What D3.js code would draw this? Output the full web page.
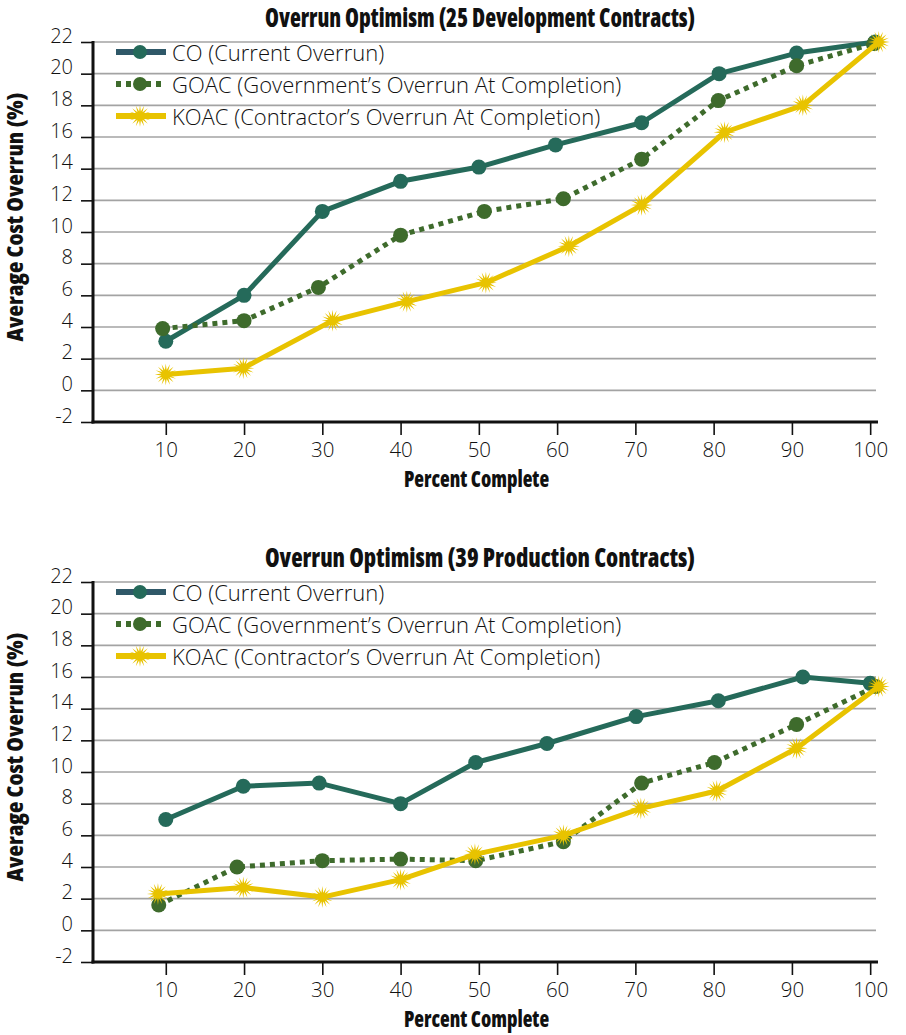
<!DOCTYPE html>
<html>
<head>
<meta charset="utf-8">
<script src="https://cdn.jsdelivr.net/npm/d3@7"></script>
<style>
  html, body { margin: 0; padding: 0; background: #ffffff; }
  svg { display: block; }
  .light { font-family: "Open Sans", "DejaVu Sans Condensed", sans-serif; font-weight: 350; font-stretch: 96%; fill: #111; }
  .bold { font-family: "Open Sans", "DejaVu Sans Condensed", sans-serif; font-weight: 800; font-stretch: 75%; fill: #111; }
</style>
</head>
<body>
<svg id="chart" width="906" height="1035"></svg>
<script>
// Percent-complete categories and axis ticks
const percentTicks = [10, 20, 30, 40, 50, 60, 70, 80, 90, 100];
const overrunTicks = [-2, 0, 2, 4, 6, 8, 10, 12, 14, 16, 18, 20, 22];

const seriesNames = [
  "CO (Current Overrun)",
  "GOAC (Government\u2019s Overrun At Completion)",
  "KOAC (Contractor\u2019s Overrun At Completion)"
];

// Development contracts (25): plotted percent-complete position and average overrun (%)
const devTitle = "Overrun Optimism (25 Development Contracts)";
const devCOx   = [10, 20, 30, 40, 50, 59.8, 70.8, 80.7, 90.6, 100.6];
const devCO    = [3.1, 6.0, 11.3, 13.2, 14.1, 15.5, 16.9, 20.0, 21.3, 22.0];
const devGOACx = [9.6, 20, 29.5, 40, 50.7, 60.8, 70.8, 80.6, 90.6, 100.5];
const devGOAC  = [3.9, 4.4, 6.5, 9.8, 11.3, 12.1, 14.6, 18.3, 20.5, 21.9];
const devKOACx = [10, 19.9, 31.3, 40.8, 50.9, 61.5, 70.8, 81.4, 91.4, 101.1];
const devKOAC  = [1.0, 1.4, 4.4, 5.6, 6.8, 9.1, 11.7, 16.3, 18.0, 22.0];

// Production contracts (39)
const prodTitle = "Overrun Optimism (39 Production Contracts)";
const prodCOx   = [10, 19.9, 29.6, 40, 49.6, 58.7, 70.1, 80.6, 91.4, 100];
const prodCO    = [7.0, 9.1, 9.3, 8.0, 10.6, 11.8, 13.5, 14.5, 16.0, 15.6];
const prodGOACx = [9.1, 19.1, 30, 40, 49.6, 60.8, 70.8, 80.1, 90.6, 100.7];
const prodGOAC  = [1.6, 4.0, 4.4, 4.5, 4.4, 5.6, 9.3, 10.6, 13.0, 15.4];
const prodKOACx = [9.0, 19.9, 30, 40, 49.5, 60.8, 70.7, 80.4, 90.6, 101.1];
const prodKOAC  = [2.3, 2.7, 2.1, 3.2, 4.8, 6.0, 7.7, 8.8, 11.5, 15.4];

const colors = { co: "#256a5a", coKey: "#2f5868", goac: "#3e6b2c", koac: "#e8c300" };

const svg = d3.select("#chart");

// Star-burst marker path for the KOAC series
function burstPath(rOuter, rInner, spikes) {
  const pts = [];
  for (let i = 0; i < spikes * 2; i++) {
    const r = i % 2 === 0 ? rOuter : rInner;
    const a = (Math.PI * i) / spikes;
    pts.push([r * Math.sin(a), -r * Math.cos(a)]);
  }
  return "M" + pts.map(p => p[0].toFixed(2) + "," + p[1].toFixed(2)).join("L") + "Z";
}
const burst = burstPath(11, 4.5, 16);

function drawPanel(offsetY, title, series) {
  const g = svg.append("g").attr("transform", `translate(0,${offsetY})`);

  const x = d3.scaleLinear().domain([0.7, 101]).range([93, 878]);
  const y = d3.scaleLinear().domain([-2, 22]).range([422, 42]);

  // Horizontal gridlines
  g.append("g").selectAll("line").data(overrunTicks.filter(t => t !== -2)).join("line")
    .attr("x1", x.range()[0]).attr("x2", 876)
    .attr("y1", d => y(d)).attr("y2", d => y(d))
    .attr("stroke", "#a3a3a3").attr("stroke-width", 1.6);

  // Y axis
  const yAxis = g.append("g").attr("transform", `translate(${x.range()[0]},0)`)
    .call(d3.axisLeft(y).tickValues(overrunTicks).tickFormat(d => String(d))
      .tickSize(12).tickPadding(8));
  yAxis.select(".domain").remove();
  yAxis.selectAll(".tick line").attr("stroke", "#111").attr("stroke-width", 1.6);
  yAxis.selectAll(".tick text").attr("class", "light").attr("dy", "0")
    .style("font-size", "20px");
  g.append("line").attr("x1", x.range()[0]).attr("x2", x.range()[0])
    .attr("y1", y(22) - 1).attr("y2", y(-2) + 1.5)
    .attr("stroke", "#111").attr("stroke-width", 3);

  // X axis
  const xAxis = g.append("g").attr("transform", `translate(0,${y(-2)})`)
    .call(d3.axisBottom(x).tickValues(percentTicks).tickSize(13).tickPadding(7));
  xAxis.select(".domain").remove();
  xAxis.selectAll(".tick line").attr("stroke", "#111").attr("stroke-width", 1.6);
  xAxis.selectAll(".tick text").attr("class", "light").style("font-size", "20.5px");
  g.append("line").attr("x1", x.range()[0] - 1.5).attr("x2", x.range()[1])
    .attr("y1", y(-2)).attr("y2", y(-2))
    .attr("stroke", "#111").attr("stroke-width", 3.2);

  // Titles
  g.append("text").attr("class", "bold")
    .attr("x", 480).attr("y", 27).attr("text-anchor", "middle")
    .attr("textLength", 430).attr("lengthAdjust", "spacingAndGlyphs")
    .style("font-size", "26px").text(title);
  g.append("text").attr("class", "bold")
    .attr("x", 476.5).attr("y", 487).attr("text-anchor", "middle")
    .attr("textLength", 145).attr("lengthAdjust", "spacingAndGlyphs")
    .style("font-size", "22px").text("Percent Complete");
  g.append("text").attr("class", "bold")
    .attr("transform", "translate(23,217) rotate(-90)").attr("text-anchor", "middle")
    .attr("textLength", 249).attr("lengthAdjust", "spacingAndGlyphs")
    .style("font-size", "22px").text("Average Cost Overrun (%)");

  const line = d3.line().x(d => x(d[0])).y(d => y(d[1]));

  series.forEach(s => {
    const pts = s.xs.map((v, i) => [v, s.ys[i]]);
    g.append("path").datum(pts)
      .attr("d", line).attr("fill", "none")
      .attr("stroke", s.color).attr("stroke-width", s.width)
      .attr("stroke-dasharray", s.dash || null)
      .attr("stroke-linejoin", "round");
    if (s.marker === "circle") {
      g.append("g").selectAll("circle").data(pts).join("circle")
        .attr("cx", d => x(d[0])).attr("cy", d => y(d[1]))
        .attr("r", 7.5).attr("fill", s.color);
    } else {
      g.append("g").selectAll("path").data(pts).join("path")
        .attr("transform", d => `translate(${x(d[0])},${y(d[1])})`)
        .attr("d", burst).attr("fill", s.color);
    }
  });

  // Legend
  const keyY = [52, 84, 116];
  series.forEach((s, i) => {
    const k = g.append("g").attr("transform", `translate(0,${keyY[i]})`);
    k.append("line").attr("x1", 116).attr("x2", 166).attr("y1", 0).attr("y2", 0)
      .attr("stroke", s.keyColor || s.color).attr("stroke-width", 6)
      .attr("stroke-dasharray", s.dash || null);
    if (s.marker === "circle") {
      k.append("circle").attr("cx", 140).attr("cy", 0).attr("r", 7).attr("fill", s.color);
    } else {
      k.append("path").attr("transform", "translate(140,0)").attr("d", burst).attr("fill", s.color);
    }
    k.append("text").attr("class", "light").attr("x", 172).attr("y", 9)
      .style("font-size", "22px").text(s.name);
  });
}

drawPanel(0, devTitle, [
  { name: seriesNames[0], xs: devCOx, ys: devCO, color: colors.co, keyColor: colors.coKey, width: 5, marker: "circle" },
  { name: seriesNames[1], xs: devGOACx, ys: devGOAC, color: colors.goac, width: 5, dash: "5,5", marker: "circle" },
  { name: seriesNames[2], xs: devKOACx, ys: devKOAC, color: colors.koac, width: 5, marker: "burst" }
]);

drawPanel(540, prodTitle, [
  { name: seriesNames[0], xs: prodCOx, ys: prodCO, color: colors.co, keyColor: colors.coKey, width: 5, marker: "circle" },
  { name: seriesNames[1], xs: prodGOACx, ys: prodGOAC, color: colors.goac, width: 5, dash: "5,5", marker: "circle" },
  { name: seriesNames[2], xs: prodKOACx, ys: prodKOAC, color: colors.koac, width: 5, marker: "burst" }
]);
</script>
</body>
</html>
